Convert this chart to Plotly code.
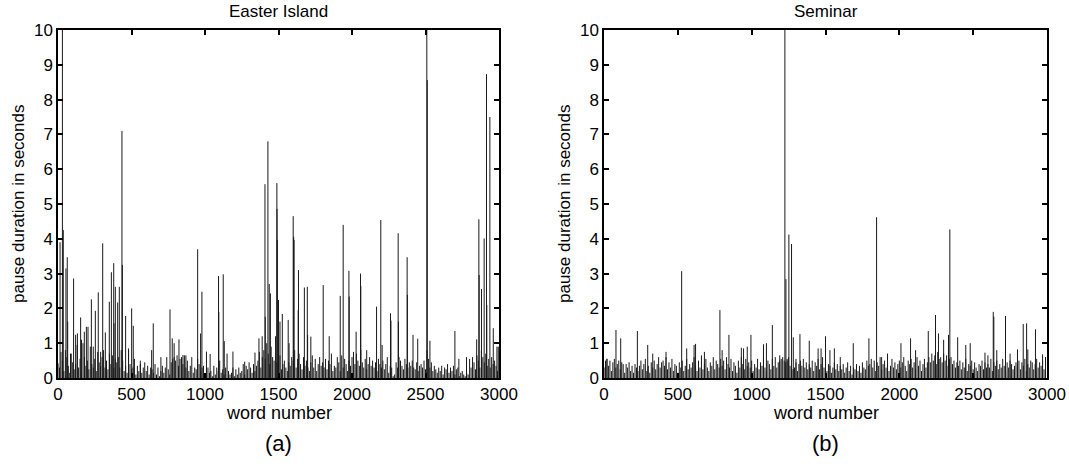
import plotly.graph_objects as go

########################
# DATA
########################

# Panel titles and labels
PANEL_TITLES = ["Easter Island", "Seminar"]
PANEL_TAGS = ["(a)", "(b)"]
X_LABEL = "word number"
Y_LABEL = "pause duration in seconds"
X_TICKS = [0, 500, 1000, 1500, 2000, 2500, 3000]
Y_TICKS = [0, 1, 2, 3, 4, 5, 6, 7, 8, 9, 10]

# Background pauses sampled every 10 words (word 0, 10, ..., 2990)
BASE_STEP = 10
easter_base = [
    0.42, 0.3, 0.75, 0.5, 0.2, 0.8, 0.6, 0.35, 0.15, 0.7, 0.45, 0.25, 0.4, 0.95, 0.3, 0.55, 0.2, 1.0, 0.6, 0.35,
    0.5, 0.25, 0.9, 0.4, 0.3, 0.55, 0.2, 0.75, 0.45, 0.35, 0.6, 0.8, 0.3, 0.5, 0.25, 0.7, 0.4, 0.65, 0.3, 0.55,
    0.45, 0.6, 0.3, 0.8, 0.5, 0.2, 0.35, 0.15, 0.85, 0.4, 0.25, 0.3, 0.55, 0.1, 0.35, 0.2, 0.4, 0.15, 0.3, 0.45,
    0.2, 0.35, 0.1, 0.3, 0.25, 0.15, 0.4, 0.1, 0.3, 0.05, 0.2, 0.35, 0.15, 0.3, 0.6, 0.25, 0.1, 0.45, 0.55, 0.6,
    0.5, 0.65, 0.35, 0.55, 0.6, 0.4, 0.65, 0.3, 0.5, 0.2, 0.35, 0.6, 0.15, 0.3, 0.25, 0.55, 0.4, 0.2, 0.3, 0.35,
    0.1, 0.25, 0.3, 0.15, 0.2, 0.05, 0.35, 0.1, 0.3, 0.2, 0.5, 0.15, 0.25, 0.1, 0.3, 0.7, 0.2, 0.1, 0.15, 0.3,
    0.05, 0.25, 0.1, 0.3, 0.15, 0.2, 0.4, 0.1, 0.35, 0.25, 0.45, 0.3, 0.15, 0.4, 0.2, 0.35, 0.5, 0.75, 0.3, 0.6,
    0.8, 0.55, 1.0, 0.7, 0.4, 0.9, 0.6, 0.5, 1.2, 0.45, 0.3, 0.65, 0.25, 0.4, 0.5, 0.3, 0.2, 0.45, 0.35, 0.6,
    0.5, 0.8, 0.3, 0.55, 0.7, 0.4, 0.25, 0.6, 0.35, 0.5, 0.3, 0.2, 0.45, 0.65, 0.3, 0.55, 0.2, 0.4, 0.6, 0.35,
    0.45, 0.3, 0.55, 0.25, 0.5, 0.4, 0.7, 0.2, 0.35, 0.3, 0.6, 0.45, 0.2, 0.65, 0.3, 0.55, 0.4, 0.2, 0.5, 0.35,
    0.6, 0.75, 0.4, 0.7, 0.5, 0.35, 0.8, 0.45, 0.3, 0.55, 0.25, 0.4, 0.6, 0.35, 0.5, 0.3, 0.45, 0.2, 0.55, 0.4,
    0.3, 0.5, 0.25, 0.4, 0.6, 0.15, 0.35, 0.3, 0.05, 0.1, 0.45, 0.3, 0.6, 0.5, 0.35, 0.25, 0.55, 0.4, 0.3, 0.45,
    0.35, 0.5, 0.3, 0.25, 0.45, 0.2, 0.35, 0.4, 0.3, 0.5, 0.25, 0.8, 0.55, 0.3, 0.45, 0.2, 0.35, 0.25, 0.15, 0.3,
    0.2, 0.35, 0.1, 0.3, 0.25, 0.4, 0.15, 0.3, 0.2, 0.35, 0.1, 0.25, 0.3, 0.05, 0.15, 0.2, 0.1, 0.05, 0.15, 0.1,
    0.55, 0.3, 0.6, 0.45, 0.25, 0.65, 0.5, 0.3, 0.8, 0.6, 0.45, 0.7, 0.35, 0.55, 0.3, 0.6, 0.4, 0.5, 0.35, 0.2,
]
seminar_base = [
    0.3, 0.5, 0.55, 0.35, 0.5, 0.2, 0.45, 0.55, 0.3, 0.4, 0.5, 0.25, 0.45, 0.4, 0.15, 0.4, 0.3, 0.45, 0.2, 0.35,
    0.15, 0.4, 0.3, 0.2, 0.35, 0.5, 0.25, 0.4, 0.55, 0.2, 0.35, 0.15, 0.45, 0.3, 0.5, 0.25, 0.4, 0.6, 0.3, 0.45,
    0.5, 0.35, 0.6, 0.25, 0.45, 0.3, 0.55, 0.2, 0.4, 0.35, 0.15, 0.45, 0.3, 0.5, 0.2, 0.35, 0.55, 0.25, 0.4, 0.3,
    0.45, 0.6, 0.35, 0.2, 0.5, 0.3, 0.65, 0.25, 0.4, 0.55, 0.3, 0.2, 0.45, 0.35, 0.6, 0.25, 0.5, 0.4, 0.3, 0.55,
    0.35, 0.5, 0.25, 0.6, 0.4, 0.3, 0.55, 0.2, 0.45, 0.35, 0.15, 0.5, 0.3, 0.6, 0.4, 0.25, 0.55, 0.35, 0.45, 0.3,
    0.5, 0.2, 0.4, 0.3, 0.55, 0.25, 0.45, 0.35, 0.6, 0.3, 0.2, 0.5, 0.4, 0.25, 0.55, 0.35, 0.6, 0.3, 0.45, 0.5,
    0.55, 0.6, 0.5, 0.45, 0.55, 0.6, 0.35, 0.3, 0.25, 0.3, 0.45, 0.2, 0.4, 0.5, 0.35, 0.55, 0.3, 0.45, 0.25, 0.4,
    0.3, 0.5, 0.2, 0.45, 0.35, 0.55, 0.25, 0.4, 0.6, 0.3, 0.5, 0.2, 0.4, 0.35, 0.15, 0.3, 0.45, 0.25, 0.4, 0.2,
    0.35, 0.25, 0.4, 0.15, 0.3, 0.45, 0.2, 0.35, 0.1, 0.3, 0.25, 0.4, 0.2, 0.35, 0.15, 0.45, 0.3, 0.25, 0.5, 0.35,
    0.4, 0.55, 0.3, 0.5, 0.2, 0.45, 0.35, 0.6, 0.25, 0.4, 0.5, 0.3, 0.45, 0.2, 0.35, 0.55, 0.3, 0.45, 0.25, 0.4,
    0.5, 0.3, 0.45, 0.6, 0.35, 0.2, 0.5, 0.4, 0.55, 0.3, 0.45, 0.25, 0.6, 0.35, 0.5, 0.2, 0.4, 0.55, 0.3, 0.45,
    0.6, 0.45, 0.7, 0.5, 0.65, 0.4, 0.75, 0.55, 0.6, 0.45, 0.7, 0.5, 0.65, 0.35, 0.55, 0.6, 0.4, 0.5, 0.3, 0.45,
    0.35, 0.5, 0.25, 0.45, 0.3, 0.55, 0.2, 0.4, 0.35, 0.5, 0.25, 0.45, 0.3, 0.2, 0.4, 0.35, 0.5, 0.25, 0.45, 0.3,
    0.4, 0.3, 0.55, 0.2, 0.45, 0.35, 0.5, 0.25, 0.4, 0.3, 0.55, 0.35, 0.2, 0.45, 0.3, 0.5, 0.4, 0.25, 0.35, 0.45,
    0.3, 0.5, 0.25, 0.45, 0.35, 0.55, 0.2, 0.4, 0.3, 0.5, 0.45, 0.25, 0.4, 0.55, 0.3, 0.45, 0.35, 0.5, 0.25, 0.6,
]

# Individual longer pauses: word number and duration (s)
easter_spike_words = [
    14, 30, 36, 54, 63, 66, 85, 106, 120, 132, 154, 160, 179, 193, 204, 227, 240, 254, 274, 290,
    304, 322, 349, 363, 379, 381, 390, 406, 417, 435, 438, 460, 480, 501, 512, 560, 637, 648, 700, 762,
    777, 790, 823, 850, 870, 950, 970, 979, 1010, 1035, 1092, 1094, 1124, 1131, 1190, 1270, 1340, 1367, 1389, 1408,
    1410, 1428, 1437, 1445, 1489, 1490, 1492, 1500, 1510, 1526, 1566, 1572, 1600, 1603, 1606, 1636, 1634, 1676, 1696, 1698,
    1720, 1804, 1845, 1920, 1940, 1979, 1981, 2028, 2058, 2060, 2100, 2167, 2196, 2205, 2262, 2265, 2314, 2316, 2375, 2377,
    2415, 2447, 2509, 2512, 2530, 2700, 2727, 2779, 2848, 2863, 2865, 2881, 2899, 2915, 2917, 2938, 2961, 2986, 2995,
]
easter_spike_durations = [
    3.9, 10.5, 4.25, 3.15, 3.47, 1.62, 0.7, 2.86, 1.24, 1.28, 1.74, 1.1, 1.33, 1.47, 1.47, 2.26, 0.9, 1.93, 2.46, 0.75,
    3.87, 1.31, 2.19, 3.04, 3.3, 1.57, 2.62, 2.17, 2.62, 7.1, 3.25, 1.78, 0.8, 2.0, 1.5, 0.5, 0.8, 1.57, 0.6, 1.97,
    1.14, 1.0, 1.11, 0.66, 0.65, 3.7, 1.28, 2.48, 0.76, 0.69, 2.93, 1.9, 2.98, 1.06, 0.76, 0.47, 0.73, 1.14, 1.2, 5.57,
    1.76, 6.8, 2.7, 2.43, 5.6, 4.86, 3.97, 2.24, 1.62, 1.84, 1.67, 1.0, 4.65, 4.06, 3.97, 3.1, 1.95, 2.6, 2.62, 1.24,
    1.19, 2.67, 1.2, 2.36, 4.4, 3.08, 2.34, 1.33, 3.0, 2.64, 0.8, 2.05, 4.54, 0.95, 1.86, 1.65, 4.16, 1.62, 3.47, 2.39,
    1.24, 1.13, 10.5, 8.56, 1.07, 1.35, 0.55, 0.6, 1.11, 4.56, 2.96, 2.56, 4.01, 8.73, 2.1, 7.5, 1.43, 0.9, 0.9,
]
seminar_spike_words = [
    20, 81, 113, 226, 296, 330, 420, 526, 560, 610, 620, 680, 785, 800, 846, 930, 945, 970, 995, 1080,
    1100, 1140, 1190, 1225, 1232, 1240, 1252, 1270, 1282, 1300, 1327, 1390, 1450, 1470, 1500, 1530, 1560, 1600, 1688, 1794,
    1846, 1880, 1920, 2011, 2076, 2110, 2196, 2245, 2265, 2300, 2333, 2342, 2395, 2450, 2480, 2580, 2600, 2636, 2640, 2660,
    2719, 2750, 2800, 2839, 2862, 2870, 2922, 2970, 2990,
]
seminar_spike_durations = [
    0.55, 1.38, 1.14, 1.35, 0.95, 0.7, 0.75, 3.07, 0.85, 0.95, 0.98, 0.75, 1.95, 0.8, 1.24, 0.87, 0.85, 0.9, 1.24, 0.97,
    1.0, 1.52, 0.65, 10.5, 2.84, 0.5, 4.12, 3.85, 1.17, 0.55, 1.26, 1.07, 0.85, 0.85, 1.2, 0.8, 0.85, 0.6, 1.0, 1.14,
    4.62, 0.6, 0.7, 1.0, 1.14, 0.8, 1.35, 1.81, 1.28, 1.1, 1.24, 4.27, 1.17, 0.95, 1.0, 0.73, 0.65, 1.9, 1.76, 0.8,
    1.78, 0.7, 0.82, 1.55, 1.57, 0.82, 1.4, 0.68, 0.6,
]

########################
# LAYOUT CONSTANTS
########################
WIDTH, HEIGHT = 1069, 467
FONT = "Liberation Sans, Arial, Helvetica, sans-serif"
X_DOMAINS = [[58 / WIDTH, 499 / WIDTH], [604 / WIDTH, 1047 / WIDTH]]
Y_DOMAIN = [(HEIGHT - 378) / HEIGHT, (HEIGHT - 30) / HEIGHT]


def stems(words, durations):
    """Turn word/duration pairs into vertical line segments"""
    xs, ys = [], []
    for w, d in zip(words, durations):
        xs += [w, w, None]
        ys += [0, d, None]
    return xs, ys


def panel_trace(base, spike_words, spike_durations, axis_suffix):
    base_words = [i * BASE_STEP for i in range(len(base))]
    xs, ys = stems(base_words + spike_words, base + spike_durations)
    return go.Scatter(
        x=xs,
        y=ys,
        mode="lines",
        line=dict(color="#1a1a1a", width=1),
        hoverinfo="skip",
        showlegend=False,
        xaxis="x" + axis_suffix,
        yaxis="y" + axis_suffix,
    )


def paper_y(py):
    """Pixel row from the top -> paper fraction"""
    return (HEIGHT - py) / HEIGHT


def build_figure():
    fig = go.Figure()
    fig.add_trace(panel_trace(easter_base, easter_spike_words, easter_spike_durations, ""))
    fig.add_trace(panel_trace(seminar_base, seminar_spike_words, seminar_spike_durations, "2"))

    axis_style = dict(
        showline=True,
        linecolor="black",
        linewidth=1.5,
        mirror="ticks",
        ticks="inside",
        ticklen=5,
        tickwidth=1.5,
        tickcolor="black",
        showgrid=False,
        zeroline=False,
        automargin=False,
        tickfont=dict(family=FONT, size=17, color="black"),
    )

    fig.update_layout(
        width=WIDTH,
        height=HEIGHT,
        margin=dict(l=0, r=0, t=0, b=0, pad=0),
        paper_bgcolor="white",
        plot_bgcolor="white",
        font=dict(family=FONT, size=17, color="black"),
        xaxis=dict(domain=X_DOMAINS[0], range=[0, 3000], tickvals=X_TICKS, anchor="y", **axis_style),
        yaxis=dict(domain=Y_DOMAIN, range=[0, 10], tickvals=Y_TICKS, anchor="x", **axis_style),
        xaxis2=dict(domain=X_DOMAINS[1], range=[0, 3000], tickvals=X_TICKS, anchor="y2", **axis_style),
        yaxis2=dict(domain=Y_DOMAIN, range=[0, 10], tickvals=Y_TICKS, anchor="x2", **axis_style),
    )

    # Titles, axis labels and panel tags
    centers = [sum(d) / 2 for d in X_DOMAINS]
    y_label_x = [19 / WIDTH, 565 / WIDTH]
    common = dict(xref="paper", yref="paper", showarrow=False, xanchor="center", yanchor="middle")
    for i, cx in enumerate(centers):
        fig.add_annotation(text=PANEL_TITLES[i], x=cx, y=paper_y(12), font=dict(size=17), **common)
        fig.add_annotation(text=X_LABEL, x=cx, y=paper_y(413), font=dict(size=18), **common)
        fig.add_annotation(text=PANEL_TAGS[i], x=cx, y=paper_y(443), font=dict(size=22), **common)
        fig.add_annotation(text=Y_LABEL, x=y_label_x[i], y=sum(Y_DOMAIN) / 2, textangle=-90,
                           font=dict(size=17), **common)
    return fig


def main():
    fig = build_figure()
    # drop the default page margin so the figure sits at the window corner
    fig.write_html(
        "out.html",
        config={"displayModeBar": False},
        post_script="document.body.style.margin = '0';",
    )


if __name__ == "__main__":
    main()
